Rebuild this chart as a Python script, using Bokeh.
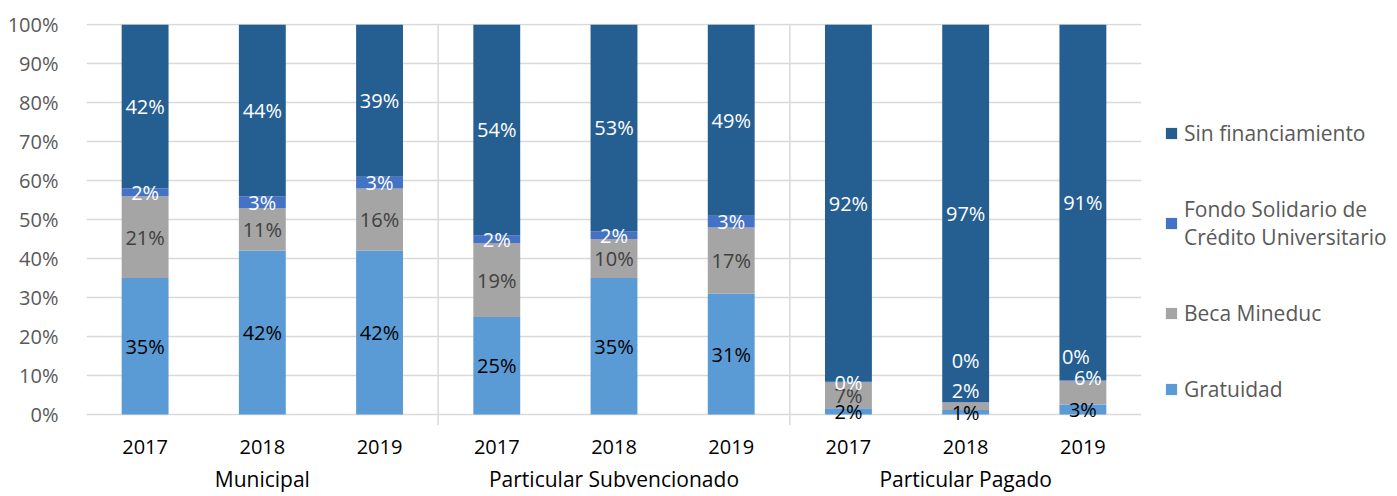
from bokeh.plotting import figure
from bokeh.models import (FactorRange, Span, Legend, LegendItem, ColumnDataSource,
                          FixedTicker, PrintfTickFormatter, Range1d)
from bokeh.embed import file_html
from bokeh.resources import INLINE
from bokeh.core.properties import value

# ---------------- data ----------------
groups = ["Municipal", "Particular Subvencionado", "Particular Pagado"]
years = ["2017", "2018", "2019"]
gratuidad = [35, 42, 42, 25, 35, 31, 1.6, 1.2, 2.6]
beca = [21, 11, 16, 19, 10, 17, 6.6, 1.9, 6.1]
fondo = [2, 3, 3, 2, 2, 3, 0.2, 0.1, 0.2]
sin_fin = [42, 44, 39, 54, 53, 49, 91.6, 96.8, 91.1]
series_keys = ["gratuidad", "beca", "fondo", "sin"]
series_names = ["Gratuidad", "Beca Mineduc",
                "Fondo Solidario de\nCrédito Universitario", "Sin financiamiento"]
y_ticks = [0, 10, 20, 30, 40, 50, 60, 70, 80, 90, 100]

# ---------------- styles ----------------
colors = ["#5B9BD5", "#A5A5A5", "#4472C4", "#255E91"]
label_colors = ["#000000", "#404040", "#FFFFFF", "#FFFFFF"]
FONT = "Open Sans"
# manual nudges of crowded data labels (group, year, series) -> (dx, dy, color)
label_adjust = {
    ("Particular Pagado", "2018", "beca"): (0, -16, "#FFFFFF"),
    ("Particular Pagado", "2018", "fondo"): (0, -42, None),
    ("Particular Pagado", "2019", "beca"): (5, -15, "#FFFFFF"),
    ("Particular Pagado", "2019", "fondo"): (-7, -24, None),
}

factors = [(g, y) for g in groups for y in years]
data = dict(x=factors, gratuidad=gratuidad, beca=beca, fondo=fondo, sin=sin_fin)
source = ColumnDataSource(data)

p = figure(x_range=FactorRange(factors=factors, factor_padding=0, group_padding=0,
                               range_padding=0),
           y_range=Range1d(-2.8, 100.3),
           frame_width=1055, frame_height=402, output_backend="svg", toolbar_location=None,
           min_border_left=86, min_border_top=23, min_border_bottom=0,
           min_border_right=0)

renderers = p.vbar_stack(series_keys, x="x", width=0.4, color=colors, line_color=None,
                         source=source)

# data labels
lx, ly, lt, lc, ldx, ldy = [], [], [], [], [], []
for i, f in enumerate(factors):
    base = 0
    for k, key in enumerate(series_keys):
        v = data[key][i]
        dx, dy, col = 0, 0, label_colors[k]
        adj = label_adjust.get((f[0], f[1], key))
        if adj:
            dx, dy = adj[0], adj[1]
            if adj[2]:
                col = adj[2]
        lx.append(f)
        ly.append(base + v / 2)
        lt.append(f"{round(v)}%")
        lc.append(col)
        ldx.append(dx)
        ldy.append(dy)
        base += v
lsrc = ColumnDataSource(dict(x=lx, y=ly, t=lt, c=lc, dx=ldx, dy=ldy))
p.text(x="x", y="y", text="t", text_color="c", x_offset="dx", y_offset="dy",
       source=lsrc, text_align="center", text_baseline="middle",
       text_font=value(FONT), text_font_size="20px")

# group separators
for loc in (3, 6):
    p.add_layout(Span(location=loc, dimension="height", line_color="#D9D9D9",
                      line_width=1.5))

# axes
p.outline_line_color = None
p.xgrid.grid_line_color = None
p.ygrid.grid_line_color = "#D9D9D9"
p.ygrid.grid_line_width = 1.5
p.yaxis.ticker = FixedTicker(ticks=y_ticks)
p.yaxis.formatter = PrintfTickFormatter(format="%d%%")
p.yaxis.axis_line_color = None
p.yaxis.major_tick_line_color = None
p.yaxis.minor_tick_line_color = None
p.yaxis.major_label_standoff = 22
p.yaxis.major_label_text_font = FONT
p.yaxis.major_label_text_font_size = "20px"
p.yaxis.major_label_text_color = "#595959"

p.xaxis.axis_line_color = None
p.xaxis.major_tick_line_color = None
p.xaxis.major_label_standoff = 8
p.xaxis.major_label_text_font = FONT
p.xaxis.major_label_text_font_size = "20px"
p.xaxis.major_label_text_color = "#000000"
p.xaxis.group_text_font = FONT
p.xaxis.group_text_font_size = "21px"
p.xaxis.group_text_font_style = "normal"
p.xaxis.group_text_color = "#000000"
p.xaxis.separator_line_color = None

# legend
items = [LegendItem(label=series_names[k], renderers=[renderers[k]]) for k in (3, 2, 1, 0)]
legend = Legend(items=items, location=(23, 22), glyph_width=14, glyph_height=14,
                label_standoff=6, label_height=27, spacing=48, padding=0, margin=0,
                border_line_color=None, background_fill_alpha=0,
                label_text_font=FONT, label_text_font_size="21px",
                label_text_color="#595959")
p.add_layout(legend, "right")

open("out.html", "w").write(file_html(p, INLINE))
